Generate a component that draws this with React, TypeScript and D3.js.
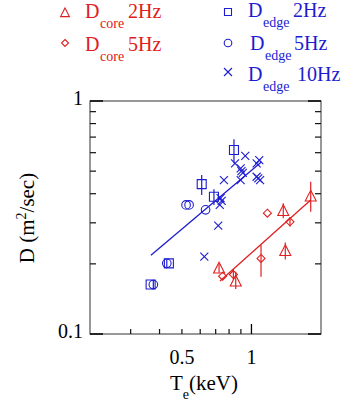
import React from "react";
import * as d3 from "d3";

const W = 341;
const H = 412;
const RED = "#e02020";
const BLUE = "#1c1cd0";

// x-axis (Te, keV) and y-axis (D, m^2/sec)
const xDomain = [0.2, 2];
const yDomain = [0.1, 1];
const xMinorTicks = [0.3, 0.4, 0.5, 0.6, 0.7, 0.8, 0.9];
const xMajorTicks = [1];
const xTickLabels = [0.5, 1];
const yMinorTicks = [0.2, 0.3, 0.4, 0.5, 0.6, 0.7, 0.8, 0.9];
const yMajorTicks = [0.1, 1];
const yTickLabels = ["0.1", "1"];

// D_edge 2Hz (squares)
const edgeSquare2Hz = [
  { T: 0.366, D: 0.163 },
  { T: 0.439, D: 0.201 },
  { T: 0.609, D: 0.44, lo: 0.395, hi: 0.481 },
  { T: 0.688, D: 0.388, lo: 0.358, hi: 0.418 },
  { T: 0.84, D: 0.616, lo: 0.54, hi: 0.685 },
];
// D_edge 5Hz (circles)
const edgeCircle5Hz = [
  { T: 0.376, D: 0.163, lo: 0.156, hi: 0.17 },
  { T: 0.43, D: 0.201, lo: 0.193, hi: 0.209 },
  { T: 0.521, D: 0.358 },
  { T: 0.537, D: 0.358 },
  { T: 0.633, D: 0.341 },
];
// D_edge 10Hz (crosses)
const edgeCross10Hz = [
  { T: 0.625, D: 0.215 },
  { T: 0.718, D: 0.292 },
  { T: 0.729, D: 0.358 },
  { T: 0.743, D: 0.373 },
  { T: 0.735, D: 0.383 },
  { T: 0.76, D: 0.458 },
  { T: 0.849, D: 0.54 },
  { T: 0.94, D: 0.581 },
  { T: 0.898, D: 0.514 },
  { T: 0.917, D: 0.492 },
  { T: 0.898, D: 0.458 },
  { T: 0.905, D: 0.5 },
  { T: 1.053, D: 0.54 },
  { T: 1.081, D: 0.558 },
  { T: 1.053, D: 0.473 },
  { T: 1.09, D: 0.458 },
  { T: 1.07, D: 0.466 },
];
// D_core 2Hz (triangles)
const coreTriangle2Hz = [
  { T: 0.724, D: 0.191, lo: 0.183, hi: 0.2 },
  { T: 0.855, D: 0.168, lo: 0.156, hi: 0.185 },
  { T: 1.373, D: 0.337, lo: 0.314, hi: 0.364 },
  { T: 1.401, D: 0.227, lo: 0.209, hi: 0.247 },
  { T: 1.805, D: 0.389, lo: 0.335, hi: 0.45 },
];
// D_core 5Hz (diamonds)
const coreDiamond5Hz = [
  { T: 0.75, D: 0.177 },
  { T: 0.835, D: 0.18, lo: 0.171, hi: 0.19 },
  { T: 1.1, D: 0.211, lo: 0.176, hi: 0.241 },
  { T: 1.172, D: 0.33 },
  { T: 1.468, D: 0.303, lo: 0.289, hi: 0.318 },
];
// fitted lines
const edgeFit = [
  { T: 0.367, D: 0.218 },
  { T: 1.107, D: 0.549 },
];
const coreFit = [
  { T: 0.731, D: 0.169 },
  { T: 1.805, D: 0.376 },
];

const L = 90, R = 321, T0 = 101, B = 334;
const x = d3.scaleLog().domain(xDomain).range([L, R]);
const y = d3.scaleLog().domain(yDomain).range([B, T0]);
const line = d3
  .line<{ T: number; D: number }>()
  .x((d) => x(d.T))
  .y((d) => y(d.D));

const FONT = "'Liberation Serif', 'Times New Roman', serif";

const tri = (s: number) => `M0,${-s * 0.62}L${s * 0.55},${s * 0.45}L${-s * 0.55},${s * 0.45}Z`;
const dia = (s: number) => `M0,${-s / 2}L${s / 2},0L0,${s / 2}L${-s / 2},0Z`;
const sq = (s: number) => `M${-s / 2},${-s / 2}H${s / 2}V${s / 2}H${-s / 2}Z`;
const crs = (s: number) => `M${-s / 2},${-s / 2}L${s / 2},${s / 2}M${s / 2},${-s / 2}L${-s / 2},${s / 2}`;

type P = { T: number; D: number; lo?: number; hi?: number };

function Marks({ data, path, color }: { data: P[]; path: string | null; color: string; }) {
  return (
    <g>
      {data.map((d, i) => (
        <g key={i}>
          {d.lo !== undefined && d.hi !== undefined && (
            <line x1={x(d.T)} x2={x(d.T)} y1={y(d.lo)} y2={y(d.hi)} stroke={color} strokeWidth={1.2} />
          )}
          {path ? (
            <path d={path} transform={`translate(${x(d.T)},${y(d.D)})`} fill="none" stroke={color} strokeWidth={1.1} />
          ) : (
            <circle cx={x(d.T)} cy={y(d.D)} r={4.3} fill="none" stroke={color} strokeWidth={1.1} />
          )}
        </g>
      ))}
    </g>
  );
}

function LegendItem({ mx, my, path, color, tx, base, sub, subx, label, lx }: any) {
  return (
    <g fill={color} fontFamily={FONT}>
      {path ? (
        <path d={path} transform={`translate(${mx},${my})`} fill="none" stroke={color} strokeWidth={1.1} />
      ) : (
        <circle cx={mx} cy={my} r={3.8} fill="none" stroke={color} strokeWidth={1.1} />
      )}
      <text x={tx} y={base} fontSize={20}>D</text>
      <text x={subx} y={base + 9.5} fontSize={14}>{sub}</text>
      <text x={lx} y={base} fontSize={20}>{label}</text>
    </g>
  );
}

export default function App() {
  return (
    <svg width={W} height={H} style={{ position: "absolute", left: 0, top: 0, background: "#fff" }}>
      <rect x={0} y={0} width={W} height={H} fill="#fff" />
      {/* frame */}
      <rect x={L} y={T0} width={R - L} height={B - T0} fill="none" stroke="#333" strokeWidth={1} />
      {/* y ticks */}
      {yMinorTicks.map((v) => (
        <g key={"ym" + v} stroke="#111" strokeWidth={1.2}>
          <line x1={L} x2={L + 6} y1={y(v)} y2={y(v)} />
          <line x1={R} x2={R - 6} y1={y(v)} y2={y(v)} />
        </g>
      ))}
      {yMajorTicks.map((v) => (
        <g key={"yM" + v} stroke="#000" strokeWidth={1.5}>
          <line x1={L} x2={L + 13} y1={y(v)} y2={y(v)} />
          <line x1={R} x2={R - 13} y1={y(v)} y2={y(v)} />
        </g>
      ))}
      {/* x ticks */}
      {xMinorTicks.map((v) => (
        <line key={"xm" + v} x1={x(v)} x2={x(v)} y1={B} y2={B - 5} stroke="#111" strokeWidth={1.2} />
      ))}
      {xMajorTicks.map((v) => (
        <line key={"xM" + v} x1={x(v)} x2={x(v)} y1={B} y2={B - 10} stroke="#000" strokeWidth={1.3} />
      ))}
      {/* tick labels */}
      {yMajorTicks.map((v, i) => (
        <text key={"yl" + v} x={83} y={y(v) + 4} textAnchor="end" fontSize={20} fontFamily={FONT} fill="#000">
          {yTickLabels[i]}
        </text>
      ))}
      {xTickLabels.map((v) => (
        <text key={"xl" + v} x={x(v)} y={364} textAnchor="middle" fontSize={20} fontFamily={FONT} fill="#000">
          {String(v)}
        </text>
      ))}
      {/* axis titles */}
      <text x={170} y={390} fontSize={21} fontFamily={FONT} fill="#000">
        T<tspan fontSize={14} dy={9}>e</tspan>
        <tspan dy={-9}>(keV)</tspan>
      </text>
      <text transform="translate(34,218) rotate(-90)" textAnchor="middle" fontSize={21} fontFamily={FONT} fill="#000">
        D (m<tspan fontSize={14} dy={-8}>2</tspan>
        <tspan dy={8}>/sec)</tspan>
      </text>
      {/* fits */}
      <path d={line(edgeFit) || ""} stroke={BLUE} strokeWidth={1.3} fill="none" />
      <path d={line(coreFit) || ""} stroke={RED} strokeWidth={1.3} fill="none" />
      {/* data */}
      <Marks data={edgeSquare2Hz} path={sq(9)} color={BLUE} />
      <Marks data={edgeCircle5Hz} path={null} color={BLUE} />
      <Marks data={edgeCross10Hz} path={crs(8)} color={BLUE} />
      <Marks data={coreTriangle2Hz} path={tri(10)} color={RED} />
      <Marks data={coreDiamond5Hz} path={dia(8)} color={RED} />
      {/* legend */}
      <LegendItem mx={65} my={13} path={tri(8)} color={RED} tx={85} base={18} sub="core" subx={100} label="2Hz" lx={128} />
      <LegendItem mx={65} my={43} path={dia(7)} color={RED} tx={85} base={51} sub="core" subx={100} label="5Hz" lx={128} />
      <LegendItem mx={228} my={12} path={sq(7)} color={BLUE} tx={248} base={17} sub="edge" subx={263} label="2Hz" lx={293} />
      <LegendItem mx={228} my={43} path={null} color={BLUE} tx={250} base={50} sub="edge" subx={265} label="5Hz" lx={294} />
      <LegendItem mx={228} my={72} path={crs(8)} color={BLUE} tx={248} base={81} sub="edge" subx={263} label="10Hz" lx={297} />
    </svg>
  );
}
